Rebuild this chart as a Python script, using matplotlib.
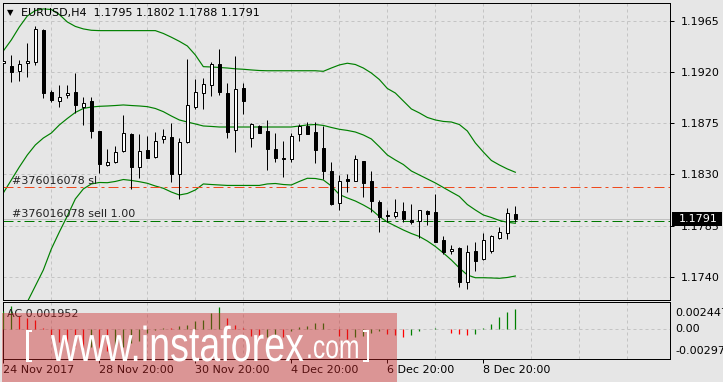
import matplotlib
matplotlib.use('Agg')
import matplotlib.pyplot as plt
from matplotlib.patches import Rectangle, PathPatch
from matplotlib.textpath import TextPath
from matplotlib.font_manager import FontProperties
from matplotlib.transforms import Affine2D

# EURUSD H4, 24 Nov 2017 20:00 .. 11 Dec 2017 12:00
opens = [1.19278, 1.19254, 1.19207, 1.19278, 1.19287, 1.19571, 1.19028, 1.18949, 1.18996, 1.19028,
         1.18896, 1.18946, 1.18682, 1.18386, 1.18412, 1.18509, 1.18656, 1.18363, 1.18515, 1.18456,
         1.18609, 1.18630, 1.18301, 1.18588, 1.18896, 1.19014, 1.19084, 1.19269, 1.19014, 1.18688,
         1.19058, 1.18618, 1.18730, 1.18682, 1.18524, 1.18442, 1.18439, 1.18653, 1.18730, 1.18674,
         1.18536, 1.18330, 1.18052, 1.18257, 1.18245, 1.18418, 1.18239, 1.18058, 1.17940, 1.17932,
         1.17978, 1.17896, 1.17890, 1.17975, 1.17970, 1.17720, 1.17624, 1.17650, 1.17351, 1.17626,
         1.17553, 1.17624, 1.17744, 1.17782, 1.17950]
highs = [1.19366, 1.19351, 1.19307, 1.19454, 1.19606, 1.19577, 1.19043, 1.19087, 1.19087, 1.19190,
         1.18985, 1.18979, 1.18685, 1.18521, 1.18550, 1.18823, 1.18668, 1.18656, 1.18638, 1.18674,
         1.18703, 1.18750, 1.18618, 1.19313, 1.19140, 1.19152, 1.19292, 1.19401, 1.19102, 1.19342,
         1.19102, 1.18750, 1.18735, 1.18779, 1.18662, 1.18594, 1.18662, 1.18744, 1.18759, 1.18759,
         1.18726, 1.18412, 1.18295, 1.18304, 1.18471, 1.18418, 1.18327, 1.18075, 1.17987, 1.18084,
         1.18055, 1.18040, 1.17987, 1.17987, 1.18128, 1.17756, 1.17680, 1.17665, 1.17680, 1.17703,
         1.17782, 1.17768, 1.17838, 1.18005, 1.18020]
lows = [1.19213, 1.19111, 1.19125, 1.19160, 1.19263, 1.18970, 1.18940, 1.18896, 1.18970, 1.18838,
        1.18735, 1.18624, 1.18310, 1.18374, 1.18404, 1.18500, 1.18169, 1.18272, 1.18442, 1.18448,
        1.18580, 1.18236, 1.18081, 1.18580, 1.18876, 1.18876, 1.18993, 1.18999, 1.18618, 1.18500,
        1.18832, 1.18544, 1.18662, 1.18340, 1.18410, 1.18275, 1.18413, 1.18597, 1.18656, 1.18404,
        1.18260, 1.18031, 1.17986, 1.18149, 1.18245, 1.18105, 1.17973, 1.17797, 1.17879, 1.17914,
        1.17879, 1.17861, 1.17744, 1.17855, 1.17703, 1.17597, 1.17597, 1.17313, 1.17290, 1.17453,
        1.17547, 1.17612, 1.17735, 1.17735, 1.17880]
closes = [1.19301, 1.19199, 1.19272, 1.19301, 1.19577, 1.19014, 1.18955, 1.18984, 1.19014, 1.18911,
          1.18926, 1.18685, 1.18392, 1.18407, 1.18500, 1.18662, 1.18369, 1.18503, 1.18448, 1.18597,
          1.18638, 1.18306, 1.18583, 1.18908, 1.19023, 1.19093, 1.19272, 1.19023, 1.18676, 1.19049,
          1.18949, 1.18741, 1.18668, 1.18527, 1.18448, 1.18436, 1.18636, 1.18723, 1.18659, 1.18515,
          1.18333, 1.18040, 1.18239, 1.18245, 1.18433, 1.18228, 1.18069, 1.17923, 1.17934, 1.17967,
          1.17905, 1.17879, 1.17984, 1.17955, 1.17709, 1.17615, 1.17644, 1.17357, 1.17615, 1.17541,
          1.17723, 1.17759, 1.17794, 1.17961, 1.17910]

# bollinger bands
bb_upper = [1.19386, 1.19483, 1.19597, 1.19694, 1.19742, 1.19756, 1.19751, 1.19707, 1.19641, 1.19602,
            1.19580, 1.19568, 1.19565, 1.19565, 1.19565, 1.19565, 1.19565, 1.19565, 1.19565, 1.19565,
            1.19540, 1.19507, 1.19471, 1.19430, 1.19351, 1.19248, 1.19245, 1.19241, 1.19236, 1.19229,
            1.19225, 1.19219, 1.19214, 1.19212, 1.19212, 1.19212, 1.19212, 1.19212, 1.19212, 1.19212,
            1.19207, 1.19236, 1.19263, 1.19278, 1.19267, 1.19236, 1.19192, 1.19135, 1.19056, 1.19016,
            1.18946, 1.18876, 1.18841, 1.18801, 1.18779, 1.18766, 1.18761, 1.18739, 1.18682, 1.18577,
            1.18497, 1.18423, 1.18383, 1.18348, 1.18319]
bb_mid = [1.18137, 1.18251, 1.18365, 1.18471, 1.18559, 1.18620, 1.18664, 1.18735, 1.18792, 1.18845,
          1.18880, 1.18893, 1.18899, 1.18902, 1.18906, 1.18911, 1.18906, 1.18902, 1.18896, 1.18880,
          1.18852, 1.18814, 1.18779, 1.18761, 1.18744, 1.18726, 1.18722, 1.18717, 1.18717, 1.18717,
          1.18717, 1.18717, 1.18717, 1.18717, 1.18717, 1.18717, 1.18717, 1.18726, 1.18735, 1.18739,
          1.18731, 1.18713, 1.18697, 1.18687, 1.18673, 1.18647, 1.18612, 1.18544, 1.18471, 1.18427,
          1.18387, 1.18330, 1.18295, 1.18260, 1.18225, 1.18185, 1.18145, 1.18106, 1.18035, 1.17987,
          1.17943, 1.17921, 1.17895, 1.17879, 1.17870]
bb_lower = [1.16755, 1.16896, 1.17037, 1.17178, 1.17318, 1.17459, 1.17644, 1.17793, 1.17934, 1.18084,
            1.18172, 1.18216, 1.18229, 1.18227, 1.18238, 1.18255, 1.18247, 1.18236, 1.18222, 1.18198,
            1.18178, 1.18145, 1.18119, 1.18132, 1.18163, 1.18216, 1.18211, 1.18207, 1.18203, 1.18203,
            1.18203, 1.18203, 1.18203, 1.18216, 1.18220, 1.18211, 1.18207, 1.18238, 1.18266, 1.18264,
            1.18251, 1.18198, 1.18123, 1.18093, 1.18066, 1.18031, 1.17991, 1.17930, 1.17881, 1.17846,
            1.17811, 1.17780, 1.17754, 1.17714, 1.17666, 1.17609, 1.17547, 1.17477, 1.17415, 1.17391,
            1.17391, 1.17389, 1.17386, 1.17393, 1.17406]

# accelerator oscillator
ac = [0.00175, 0.00226, 0.00125, 0.00105, 0.00085, 0.00005, -0.00075, -0.00135, -0.00160, -0.00185,
      -0.00195, -0.00185, -0.00200, -0.00230, -0.00200, -0.00185, -0.00150, -0.00130, -0.00045, -0.00010,
      0.00010, 0.00005, 0.00030, 0.00040, 0.00075, 0.00092, 0.00161, 0.00219, 0.00109, 0.00041,
      0.00003, -0.00079, -0.00100, -0.00089, -0.00075, -0.00090, -0.00030, 0.00020, 0.00030, 0.00058,
      0.00060, 0.00000, -0.00079, -0.00103, -0.00089, -0.00079, -0.00045, -0.00027, -0.00055, -0.00068,
      -0.00086, -0.00068, -0.00027, -0.00003, 0.00001, 0.00000, -0.00045, -0.00055, -0.00062, -0.00051,
      0.00007, 0.00048, 0.00116, 0.00171, 0.001952]

price_ticks = [1.1740, 1.1785, 1.1830, 1.1875, 1.1920, 1.1965]
date_pos = [0, 12, 24, 36, 48, 60]
date_labels = ['24 Nov 2017', '28 Nov 20:00', '30 Nov 20:00', '4 Dec 20:00', '6 Dec 20:00', '8 Dec 20:00']
sl_price = 1.1819
order_price = 1.1789
bid = 1.1791

BG = '#e6e6e6'
GRID = '#c4c4c4'
W, H = 723, 382
PX = 0.72  # one pixel in points

def fx(px):
    return px / W

def fy(py):
    return 1 - py / H

fig = plt.figure(figsize=(7.23, 3.82), dpi=100, facecolor=BG)
ax = fig.add_axes([fx(3), fy(300), fx(669.5) - fx(3), fy(3) - fy(300)], facecolor=BG)
ac_ax = fig.add_axes([fx(3), fy(359), fx(669.5) - fx(3), fy(302) - fy(359)], facecolor=BG)

# candles
bw = 0.45
for i in range(len(opens)):
    o, h, l, c = opens[i], highs[i], lows[i], closes[i]
    ax.vlines(i, l, h, color='k', lw=PX, zorder=3)
    if abs(c - o) < 0.00004:
        ax.hlines(o, i - bw / 2 - 0.05, i + bw / 2 + 0.05, color='k', lw=1.4 * PX, zorder=4)
    else:
        ax.add_patch(Rectangle((i - bw / 2, min(o, c)), bw, abs(c - o),
                               facecolor='white' if c > o else 'black',
                               edgecolor='k', lw=PX, zorder=4))

x = list(range(len(bb_mid)))
for band in (bb_upper, bb_mid, bb_lower):
    ax.plot(x, band, color='#008000', lw=0.85, zorder=2)

ax.axhline(bid, color='#c0c0c0', lw=PX, zorder=1)
ax.axhline(sl_price, color='#ee4a1e', lw=PX, ls=(0, (10, 4, 3, 4)), zorder=2)
ax.axhline(order_price, color='#007800', lw=PX, ls=(0, (10, 4, 3, 4)), zorder=2)

ax.set_xlim(-0.04, 83.27)
ax.set_ylim(1.17195, 1.19808)
ax.set_yticks(price_ticks)
ax.set_yticklabels(['%.4f' % p for p in price_ticks])
ax.set_xticks(range(6, 83, 6))
ax.grid(True, color=GRID, ls=(0, (3, 3)), lw=PX, zorder=0)
ax.tick_params(axis='x', bottom=False, labelbottom=False)
ax.tick_params(axis='y', left=False, labelleft=False, right=True, labelright=True,
               length=3, width=PX, pad=5, labelsize=8, colors='k')
for s in ax.spines.values():
    s.set_linewidth(PX)

# AC panel
cols = ['#008000']
for i in range(1, len(ac)):
    cols.append('#008000' if ac[i] >= ac[i - 1] else '#ff0000')
ac_ax.vlines(range(len(ac)), 0, ac, colors=cols, lw=0.9, zorder=3)
ac_ax.axhline(0, color=GRID, ls=(0, (3, 3)), lw=PX, zorder=1)
ac_ax.set_xlim(-0.04, 83.27)
ac_ax.set_ylim(-0.003113, 0.002712)
ac_ax.set_yticks([])
ac_ax.set_xticks(date_pos)
ac_ax.set_xticklabels(date_labels, ha='left')
ac_ax.set_xticks(range(6, 83, 6), minor=True)
ac_ax.grid(True, which='minor', axis='x', color=GRID, ls=(0, (3, 3)), lw=PX, zorder=0)
ac_ax.tick_params(axis='x', which='major', length=3, width=PX, pad=1.5, labelsize=8)
ac_ax.tick_params(axis='x', which='minor', length=0)
for s in ac_ax.spines.values():
    s.set_linewidth(PX)

# chart texts
fig.text(fx(7), fy(13), '\u25bc', fontsize=6, va='center')
fig.text(fx(21), fy(13), 'EURUSD,H4  1.1795 1.1802 1.1788 1.1791', fontsize=8, va='center')
fig.text(fx(12), fy(181), '#376016078 sl', fontsize=8, va='center', color='#222222')
fig.text(fx(12), fy(214), '#376016078 sell 1.00', fontsize=8, va='center', color='#222222')
fig.text(fx(7), fy(314), 'AC 0.001952', fontsize=8, va='center', color='#222222')
fig.text(fx(675), fy(312.5), '0.002447', fontsize=8, va='center')
fig.text(fx(675), fy(328.5), '0.00', fontsize=8, va='center')
fig.text(fx(675), fy(351), '-0.00297', fontsize=8, va='center')

# current price box
fig.add_artist(Rectangle((fx(672), fy(226)), fx(722) - fx(672), fy(212) - fy(226),
                         transform=fig.transFigure, facecolor='black', edgecolor='none', zorder=5))
fig.text(fx(679), fy(219), '%.4f' % bid, fontsize=8, va='center', color='white', zorder=6)

# watermark
fig.add_artist(Rectangle((fx(2), fy(382)), fx(397) - fx(2), fy(313) - fy(382),
                         transform=fig.transFigure, facecolor=(0.8, 0.15, 0.15), alpha=0.42,
                         edgecolor='none', zorder=10))
wm_font = FontProperties(family=['Liberation Sans', 'DejaVu Sans'])

def wm_text(s, left, baseline, sx, sy):
    path = TextPath((0, 0), s, size=1, prop=wm_font)
    tr = Affine2D().scale(sx, sy).translate(left, H - baseline)
    fig.add_artist(PathPatch(path, transform=tr, facecolor='white', edgecolor='none', zorder=11))

wm_text('[', 24, 355, 30, 35)
wm_text('www.instaforex', 51, 361, 37.6, 49)
wm_text('.com', 306, 358, 24.7, 33)
wm_text(']', 363, 355, 30, 35)

fig.savefig('out.png', dpi=100, facecolor=BG)
